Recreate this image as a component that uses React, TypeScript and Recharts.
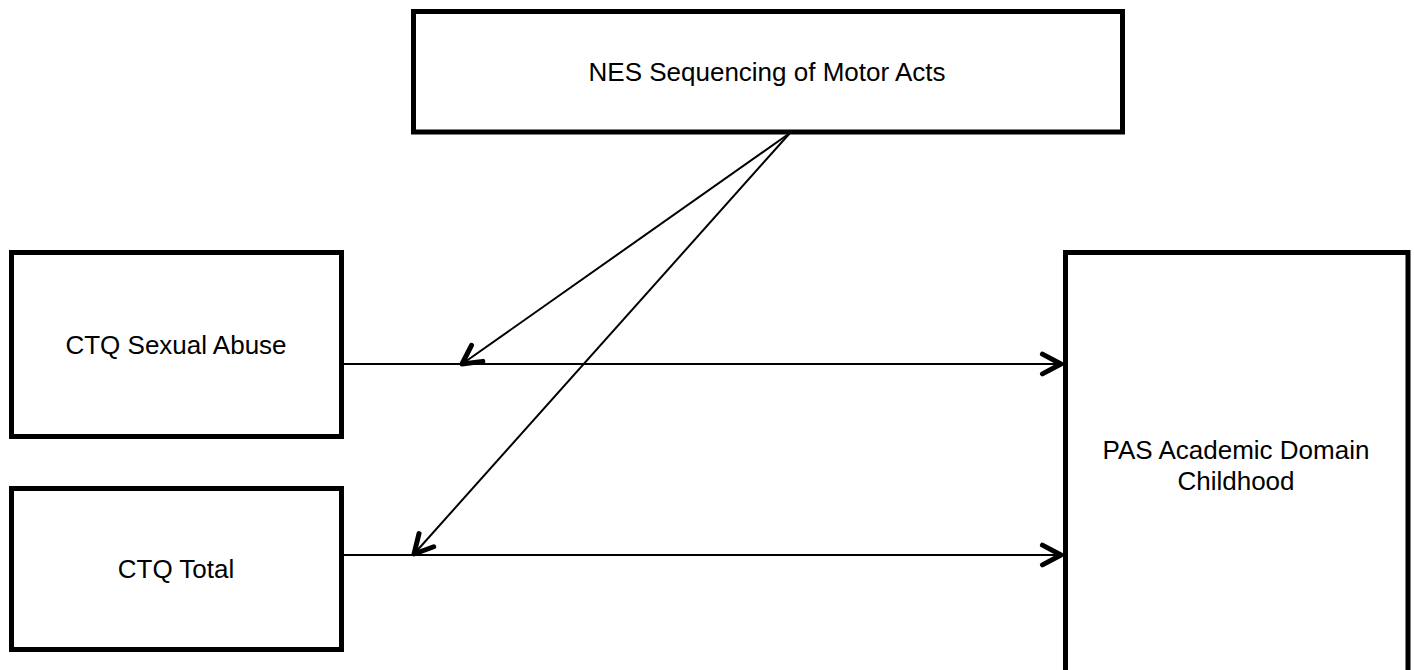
import { ComposedChart, XAxis, YAxis, ReferenceArea, ReferenceLine, Scatter } from 'recharts';

// page-sized diagram space (px), y grows downward
const WIDTH = 1414;
const HEIGHT = 670;

// boxes of the path diagram
const boxX1 = [413.5, 11.5, 11.5, 1065.5];
const boxX2 = [1122.5, 341.5, 341.5, 1408];
const boxY1 = [11.5, 252.5, 488.5, 252.5];
const boxY2 = [132, 436.5, 649.5, 720];

// box captions
const captionLines = [
  ['NES Sequencing of Motor Acts'],
  ['CTQ Sexual Abuse'],
  ['CTQ Total'],
  ['PAS Academic Domain', 'Childhood'],
];
const captionX = [767, 176, 176, 1236];
const captionY = [72, 345, 569, 465];

// arrows: start -> tip
const arrowFromX = [343, 343, 790, 790];
const arrowFromY = [364, 555, 133, 133];
const arrowToX = [1061, 1061, 462, 414];
const arrowToY = [364, 555, 364, 554];

const captionData = captionLines.map((lines, i) => ({ x: captionX[i], y: captionY[i], lines }));

const FONT = '"Liberation Sans", Arial, sans-serif';

function ArrowShape(props: any) {
  const { x1, y1, x2, y2 } = props;
  const ang = Math.atan2(y1 - y2, x1 - x2);
  const head = 21;
  const spread = (28 * Math.PI) / 180;
  const ax = x2 + head * Math.cos(ang + spread);
  const ay = y2 + head * Math.sin(ang + spread);
  const bx = x2 + head * Math.cos(ang - spread);
  const by = y2 + head * Math.sin(ang - spread);
  return (
    <g>
      <line x1={x1} y1={y1} x2={x2} y2={y2} stroke="#000" strokeWidth={2} />
      <polyline
        points={`${ax},${ay} ${x2},${y2} ${bx},${by}`}
        fill="none"
        stroke="#000"
        strokeWidth={5}
        strokeLinecap="round"
        strokeLinejoin="round"
      />
    </g>
  );
}

function Caption(props: any) {
  const { cx, cy, payload } = props;
  const lines: string[] = payload.lines;
  const gap = 31;
  const top = cy - ((lines.length - 1) * gap) / 2;
  return (
    <text textAnchor="middle" fontFamily={FONT} fontSize={26} fill="#000">
      {lines.map((l, i) => (
        <tspan key={i} x={cx} y={top + i * gap} dy="0.35em">
          {l}
        </tspan>
      ))}
    </text>
  );
}

export default function App() {
  return (
    <div style={{ position: 'fixed', left: 0, top: 0, background: '#fff' }}>
      <ComposedChart width={WIDTH} height={HEIGHT} margin={{ top: 0, right: 0, bottom: 0, left: 0 }}>
        <XAxis type="number" dataKey="x" domain={[0, WIDTH]} allowDataOverflow hide />
        <YAxis type="number" dataKey="y" domain={[0, HEIGHT]} reversed allowDataOverflow hide />
        {boxX1.map((_, i) => (
          <ReferenceArea
            key={`box-${i}`}
            x1={boxX1[i]}
            x2={boxX2[i]}
            y1={boxY1[i]}
            y2={boxY2[i]}
            fill="#fff"
            fillOpacity={1}
            stroke="#000"
            strokeWidth={5}
            ifOverflow="visible"
          />
        ))}
        {arrowFromX.map((_, i) => (
          <ReferenceLine
            key={`arrow-${i}`}
            segment={[
              { x: arrowFromX[i], y: arrowFromY[i] },
              { x: arrowToX[i], y: arrowToY[i] },
            ]}
            ifOverflow="visible"
            shape={ArrowShape}
          />
        ))}
        <Scatter data={captionData} shape={Caption} isAnimationActive={false} />
      </ComposedChart>
    </div>
  );
}
